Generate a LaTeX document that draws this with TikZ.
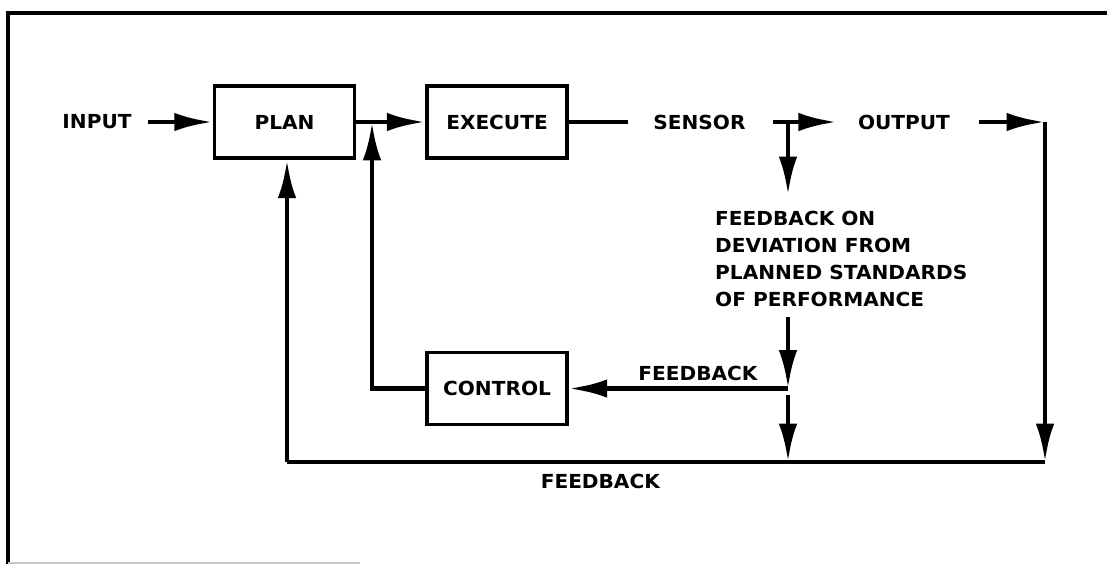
\documentclass[tikz,border=0pt]{standalone}
\usepackage{fontspec}
\newfontfamily\letterfont{DejaVu Sans}[FakeStretch=1.04]
\usetikzlibrary{positioning, arrows.meta, calc}

\tikzset{
	lettering/.style={font=\letterfont\bfseries\fontsize{16.5}{23}\selectfont},
	block/.style={draw, lettering, line width=3pt, minimum width=4.2cm, minimum height=2.16cm},
	word/.style={lettering, inner sep=0pt},
	wire/.style={line width=4.2pt},
	flow/.style={wire, -{Latex[length=1.15cm, width=0.55cm]}},
}

\begin{document}
\begin{tikzpicture}[x=0.03cm, y=-0.03cm]
						\useasboundingbox (0,0) rectangle (1107,564);
						% frame
						\draw[line width=3pt] (8,570) -- (8,13) -- (1110,13);
						\draw[gray!45, line width=1pt] (8,563) -- (360,563);
						\node[block] (plan) at (284.5,122) {PLAN};
						\node[block, right=2.07cm of plan] (execute) {EXECUTE};
						\node[block, below=5.73cm of execute] (control) {CONTROL};
						\node[word] (input) at (97,122) {INPUT};
						\node[word] (sensor) at (699.5,122) {SENSOR};
						\node[word] (output) at (904,122) {OUTPUT};
						\node[word, align=left, anchor=north west] (dev) at (715,211)
							{FEEDBACK ON\\DEVIATION FROM\\PLANNED STANDARDS\\OF PERFORMANCE};
						\coordinate (j1) at (372,122);
						\coordinate (tee) at (788,122);
						\coordinate (j2) at (tee |- control);
						\coordinate (corner) at (1045,122);
						\coordinate (botright) at (1045,462);
						\coordinate (botleft) at (287,462);
						\node[word, above=0.24cm of j2, xshift=-2.7cm] (fbmid) {FEEDBACK};
						\node[word, below=0.36cm of botleft, xshift=9.4cm] (fbbot) {FEEDBACK};
						% forward path
						\draw[flow, shorten <=0.48cm] (input) -- (plan);
						\draw[flow] (plan) -- (execute);
						\draw[wire, shorten >=0.75cm] (execute) -- (sensor);
						\draw[flow, shorten <=0.81cm, shorten >=0.63cm] (sensor) -- (output);
						\draw[flow, shorten <=0.87cm] (output) -- (corner);
						% feedback paths
						\draw[flow, shorten >=0.48cm] (tee) -- (tee |- dev.north);
						\draw[flow, shorten <=0.3cm] (j2 |- dev.south) -- (j2);
						\draw[flow] (j2) -- (control);
						\draw[flow] (control) -| (j1);
						\draw[flow, shorten <=0.18cm] (j2) -- (j2 |- botleft);
						\draw[flow] (corner) -- (botright);
						\draw[wire] (botright) -- (botleft);
						\draw[flow] (botleft) -- (botleft |- plan.south);
					\end{tikzpicture}
\end{document}
